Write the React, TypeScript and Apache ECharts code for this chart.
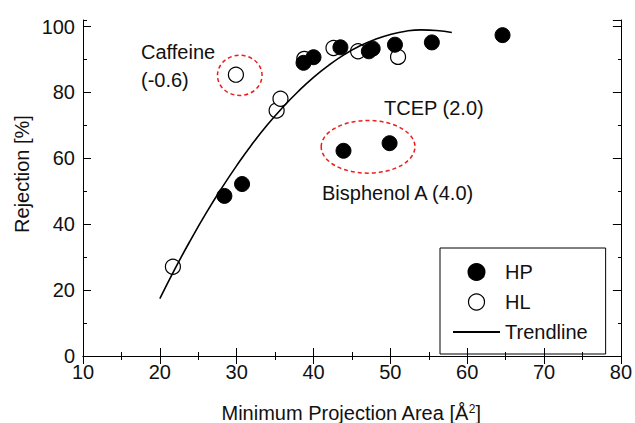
import React, { useEffect, useRef } from "react";
import * as echarts from "echarts";

// HP (filled) : [projection area, rejection]
const hpArea = [28.4, 30.7, 38.7, 40.0, 43.5, 43.9, 47.2, 47.7, 49.9, 50.6, 55.4, 64.6];
const hpRejection = [48.6, 52.2, 89.0, 90.7, 93.7, 62.3, 92.5, 93.3, 64.6, 94.5, 95.2, 97.4];

// HL (open)
const hlArea = [21.7, 29.9, 35.2, 35.7, 38.8, 42.6, 45.8, 51.0];
const hlRejection = [27.1, 85.4, 74.5, 78.1, 90.2, 93.5, 92.5, 90.8];

// Trendline
const trendArea = [20, 22, 24, 26, 28, 30, 32, 34, 36, 38, 40, 42, 44, 46, 48, 50, 52, 54, 56, 58];
const trendRejection = [17.4, 26.6, 35.2, 43.3, 50.8, 57.8, 64.3, 70.2, 75.5, 80.3, 84.6, 88.3, 91.5, 94.1, 96.1, 97.6, 98.6, 99.0, 98.8, 98.2];

// Highlight ellipses (centre and half-extent in data units)
const ellipseX = [30.4, 47.1];
const ellipseY = [85.2, 63.5];
const ellipseHalfW = [2.9, 6.1];
const ellipseHalfH = [6.1, 8.0];

const xTicks = [10, 20, 30, 40, 50, 60, 70, 80];
const yTicks = [0, 20, 40, 60, 80, 100];

const FONT = '"Liberation Sans", Arial, Helvetica, sans-serif';
const TXT = "#111";

export default function App() {
  const ref = useRef<HTMLDivElement>(null);
  useEffect(() => {
    if (!ref.current) return;
    const chart = echarts.init(ref.current, undefined, { renderer: "svg" });
    const gridPos = { left: 83, right: 13, top: 20, bottom: 67 };
    const axisLine = { show: true, lineStyle: { color: "#000", width: 1 } };
    const majorTick = { show: true, inside: true, length: 8, lineStyle: { color: "#000", width: 1 } };
    const xBase = {
      type: "value" as const,
      min: xTicks[0],
      max: xTicks[xTicks.length - 1],
      interval: 10,
      axisLine,
      axisTick: majorTick,
      minorTick: { show: true, splitNumber: 2, length: 4, lineStyle: { color: "#000", width: 1 } },
      splitLine: { show: false },
      minorSplitLine: { show: false },
    };
    const yMajor = {
      type: "value" as const,
      min: 0,
      max: 102,
      interval: 20,
      axisLine,
      axisTick: majorTick,
      splitLine: { show: false },
    };
    const yMinor = {
      type: "value" as const,
      min: 0,
      max: 102,
      interval: 10,
      axisLine: { show: false },
      axisTick: { show: true, inside: true, length: 4, lineStyle: { color: "#000", width: 1 } },
      axisLabel: { show: false },
      splitLine: { show: false },
    };
    const option: any = {
      animation: false,
      grid: [{ ...gridPos }, { ...gridPos }],
      xAxis: [
        {
          ...xBase,
          gridIndex: 0,
          position: "bottom",
          axisLabel: { show: true, margin: 6, fontSize: 20, fontFamily: FONT, color: TXT },
        },
        { ...xBase, gridIndex: 0, position: "top", axisLabel: { show: false } },
        { type: "value", gridIndex: 1, min: 10, max: 80, show: false },
      ],
      yAxis: [
        {
          ...yMajor,
          gridIndex: 0,
          position: "left",
          axisLabel: {
            show: true,
            margin: 8,
            fontSize: 20,
            fontFamily: FONT,
            color: TXT,
            showMaxLabel: false,
            formatter: (v: number) => (yTicks.indexOf(v) >= 0 ? String(v) : ""),
          },
        },
        { ...yMajor, gridIndex: 0, position: "right", axisLabel: { show: false } },
        { ...yMinor, gridIndex: 1, position: "left" },
        { ...yMinor, gridIndex: 1, position: "right" },
      ],
      legend: {
        show: true,
        orient: "vertical",
        left: 440,
        top: 248,
        itemWidth: 47,
        itemHeight: 16,
        itemGap: 10,
        padding: [14, 18, 12, 12],
        borderColor: "#000",
        borderWidth: 1,
        textStyle: { fontSize: 20, fontFamily: FONT, color: TXT },
        data: [
          { name: "HP", itemStyle: { opacity: 1, color: "#000" } },
          { name: "HL", itemStyle: { opacity: 1, borderWidth: 1.2, borderColor: "#000", color: "#fff" } },
          { name: "Trendline", itemStyle: { opacity: 0, color: "transparent", borderWidth: 0 } },
        ],
      },
      series: [
        {
          type: "custom",
          name: "ellipses",
          xAxisIndex: 0,
          yAxisIndex: 0,
          silent: true,
          data: ellipseX.map((x, i) => [x, ellipseY[i], ellipseHalfW[i], ellipseHalfH[i]]),
          encode: { x: 0, y: 1 },
          renderItem: (_p: any, api: any) => {
            const cx = api.value(0);
            const cy = api.value(1);
            const c = api.coord([cx, cy]);
            const e = api.coord([cx + api.value(2), cy + api.value(3)]);
            return {
              type: "ellipse",
              shape: { cx: c[0], cy: c[1], rx: Math.abs(e[0] - c[0]), ry: Math.abs(e[1] - c[1]) },
              style: { fill: "none", stroke: "#ee1c1c", lineWidth: 1.5, lineDash: [4, 3] },
            };
          },
        },
        {
          type: "line",
          name: "Trendline",
          xAxisIndex: 0,
          yAxisIndex: 0,
          smooth: true,
          symbol: "none",
          lineStyle: { color: "#000", width: 1.6 },
          itemStyle: { color: "#000" },
          data: trendArea.map((x, i) => [x, trendRejection[i]]),
        },
        {
          type: "scatter",
          name: "HL",
          xAxisIndex: 0,
          yAxisIndex: 0,
          symbol: "circle",
          symbolSize: 15,
          itemStyle: { color: "#fff", borderColor: "#000", borderWidth: 1.2, opacity: 1 },
          data: hlArea.map((x, i) => [x, hlRejection[i]]),
        },
        {
          type: "scatter",
          name: "HP",
          xAxisIndex: 0,
          yAxisIndex: 0,
          symbol: "circle",
          symbolSize: 15,
          itemStyle: { color: "#000", borderColor: "#000", borderWidth: 1, opacity: 1 },
          data: hpArea.map((x, i) => [x, hpRejection[i]]),
        },
      ],
      graphic: [
        {
          type: "text",
          x: 141,
          y: 52,
          style: { text: "Caffeine", font: `20px ${FONT}`, fill: TXT, verticalAlign: "middle" },
        },
        {
          type: "text",
          x: 141,
          y: 80,
          style: { text: "(-0.6)", font: `20px ${FONT}`, fill: TXT, verticalAlign: "middle" },
        },
        {
          type: "text",
          x: 384,
          y: 108,
          style: { text: "TCEP (2.0)", font: `20px ${FONT}`, fill: TXT, verticalAlign: "middle" },
        },
        {
          type: "text",
          x: 322,
          y: 193,
          style: { text: "Bisphenol A (4.0)", font: `20px ${FONT}`, fill: TXT, verticalAlign: "middle" },
        },
        {
          type: "text",
          x: 22,
          y: 174,
          rotation: Math.PI / 2,
          style: {
            text: "Rejection [%]",
            font: `20px ${FONT}`,
            fill: TXT,
            align: "center",
            verticalAlign: "middle",
          },
        },
        {
          type: "text",
          x: 351,
          y: 413,
          style: {
            text: "Minimum Projection Area [Å{sup|2}]",
            font: `20px ${FONT}`,
            fill: TXT,
            align: "center",
            verticalAlign: "middle",
            rich: {
              sup: { fontSize: 12, fontFamily: FONT, fill: TXT, padding: [0, 0, 9, 0] },
            },
          },
        },
      ],
    };
    chart.setOption(option);
    return () => chart.dispose();
  }, []);
  return (
    <div
      ref={ref}
      style={{ position: "fixed", left: 0, top: 0, width: 635, height: 423, background: "#fff" }}
    />
  );
}
